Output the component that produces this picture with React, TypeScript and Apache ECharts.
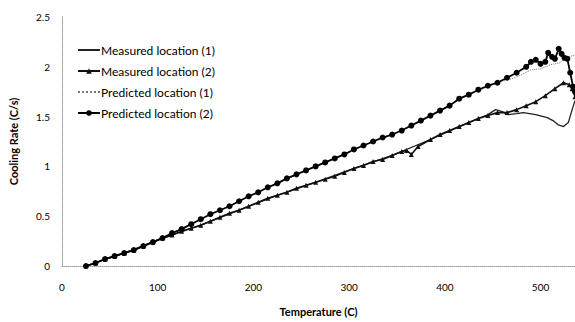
import React, { useEffect, useRef } from "react";
import * as echarts from "echarts";

const predicted2Temp = [25, 35, 45, 55, 65, 75, 85, 95, 105, 115, 125, 135, 145, 155, 165, 175, 185, 195, 205, 215, 225, 235, 245, 255, 265, 275, 285, 295, 305, 315, 325, 335, 345, 355, 365, 375, 385, 395, 405, 415, 425, 435, 445, 455, 465, 475, 485, 490, 495, 500, 505, 508, 512, 515, 519, 522, 525, 528, 531, 534, 536];
const predicted2Rate = [0, 0.03, 0.07, 0.1, 0.13, 0.16, 0.2, 0.24, 0.28, 0.33, 0.37, 0.42, 0.47, 0.52, 0.56, 0.6, 0.65, 0.7, 0.74, 0.79, 0.83, 0.88, 0.92, 0.96, 1.0, 1.04, 1.08, 1.12, 1.17, 1.21, 1.25, 1.29, 1.32, 1.36, 1.41, 1.46, 1.51, 1.56, 1.61, 1.68, 1.72, 1.77, 1.81, 1.84, 1.89, 1.94, 2.0, 2.05, 2.07, 2.03, 2.05, 2.14, 2.1, 2.08, 2.18, 2.13, 2.09, 2.08, 1.94, 1.8, 1.75];

const predicted1Temp = [25, 65, 105, 145, 185, 225, 265, 305, 345, 385, 425, 460, 470, 480, 490, 500, 510, 520, 525, 530, 536];
const predicted1Rate = [0, 0.13, 0.28, 0.47, 0.65, 0.83, 1.0, 1.17, 1.32, 1.51, 1.72, 1.86, 1.88, 1.92, 1.97, 1.98, 2.02, 2.04, 2.08, 2.1, 2.12];

const measured2Temp = [25, 35, 45, 55, 65, 75, 85, 95, 105, 115, 125, 135, 145, 155, 165, 175, 185, 195, 205, 215, 225, 235, 245, 255, 265, 275, 285, 295, 305, 315, 325, 335, 345, 355, 360, 365, 372, 385, 395, 405, 415, 425, 435, 445, 455, 465, 475, 485, 495, 505, 515, 524, 530, 533, 536];
const measured2Rate = [0, 0.03, 0.07, 0.1, 0.13, 0.16, 0.2, 0.24, 0.28, 0.31, 0.35, 0.38, 0.41, 0.45, 0.49, 0.53, 0.56, 0.6, 0.64, 0.68, 0.71, 0.74, 0.78, 0.81, 0.84, 0.87, 0.9, 0.94, 0.98, 1.01, 1.05, 1.07, 1.11, 1.15, 1.16, 1.12, 1.2, 1.27, 1.32, 1.36, 1.4, 1.44, 1.48, 1.51, 1.54, 1.54, 1.57, 1.61, 1.65, 1.71, 1.78, 1.84, 1.82, 1.78, 1.7];

const measured1Temp = [25, 65, 105, 145, 185, 225, 265, 305, 345, 385, 425, 445, 453, 460, 466, 475, 482, 495, 507, 513, 518, 524, 529, 534, 536];
const measured1Rate = [0, 0.13, 0.28, 0.41, 0.56, 0.71, 0.84, 0.98, 1.11, 1.27, 1.44, 1.52, 1.57, 1.55, 1.52, 1.53, 1.54, 1.52, 1.49, 1.46, 1.42, 1.4, 1.44, 1.6, 1.66];

const seriesNames = ["Measured location (1)", "Measured location (2)", "Predicted location (1)", "Predicted location (2)"];

const pairs = (xs: number[], ys: number[]) => xs.map((x, i) => [x, ys[i]]);

export default function App() {
  const ref = useRef<HTMLDivElement>(null);
  useEffect(() => {
    if (!ref.current) return;
    const chart = echarts.init(ref.current, undefined, { renderer: "svg" });
    const font = "Lato, 'Open Sans', sans-serif";
    chart.setOption({
      animation: false,
      backgroundColor: "#fff",
      textStyle: { fontFamily: font },
      grid: { left: 59, right: 0, top: 17, bottom: 54 },
      legend: {
        orient: "vertical",
        left: 72,
        top: 38,
        itemWidth: 22,
        itemHeight: 7,
        itemGap: 7,
        data: [
          { name: seriesNames[0], itemStyle: { opacity: 0 } },
          { name: seriesNames[1] },
          { name: seriesNames[2], itemStyle: { opacity: 0 } },
          { name: seriesNames[3] },
        ],
        textStyle: { fontSize: 12, color: "#000", fontFamily: font, lineHeight: 14, padding: [0, 0, 0, -4] },
      },
      xAxis: {
        type: "value",
        min: 0,
        max: 536,
        interval: 100,
        name: "Temperature (C)",
        nameLocation: "middle",
        nameGap: 40,
        nameTextStyle: { fontSize: 11, fontWeight: "bold", color: "#000", fontFamily: font },
        axisLine: { show: true, lineStyle: { color: "#999", type: "dotted", width: 1 } },
        axisTick: { show: false },
        splitLine: { show: false },
        axisLabel: { fontSize: 10, color: "#000", margin: 16, showMaxLabel: false, fontFamily: font },
      },
      yAxis: {
        type: "value",
        min: 0,
        max: 2.5,
        interval: 0.5,
        name: "Cooling Rate (C/s)",
        nameLocation: "middle",
        nameGap: 43,
        nameTextStyle: { fontSize: 11, fontWeight: "bold", color: "#000", fontFamily: font },
        axisLine: { show: true, lineStyle: { color: "#999", type: "dotted", width: 1 } },
        axisTick: { show: false },
        splitLine: { show: false },
        axisLabel: { fontSize: 10, color: "#000", margin: 12, fontFamily: font },
      },
      series: [
        {
          name: seriesNames[0],
          type: "line",
          data: pairs(measured1Temp, measured1Rate),
          symbol: "none",
          lineStyle: { color: "#222", width: 1.3 },
          itemStyle: { color: "#222" },
        },
        {
          name: seriesNames[1],
          type: "line",
          data: pairs(measured2Temp, measured2Rate),
          symbol: "triangle",
          symbolSize: 5,
          lineStyle: { color: "#111", width: 1.6 },
          itemStyle: { color: "#111" },
        },
        {
          name: seriesNames[2],
          type: "line",
          data: pairs(predicted1Temp, predicted1Rate),
          symbol: "none",
          lineStyle: { color: "#777", width: 1, type: "dotted" },
          itemStyle: { color: "#777" },
        },
        {
          name: seriesNames[3],
          type: "line",
          data: pairs(predicted2Temp, predicted2Rate),
          symbol: "circle",
          symbolSize: 6,
          lineStyle: { color: "#000", width: 1.8 },
          itemStyle: { color: "#000" },
        },
      ],
    });
    return () => chart.dispose();
  }, []);
  return <div ref={ref} style={{ width: 575, height: 322, position: "absolute", left: 0, top: 0 }} />;
}
